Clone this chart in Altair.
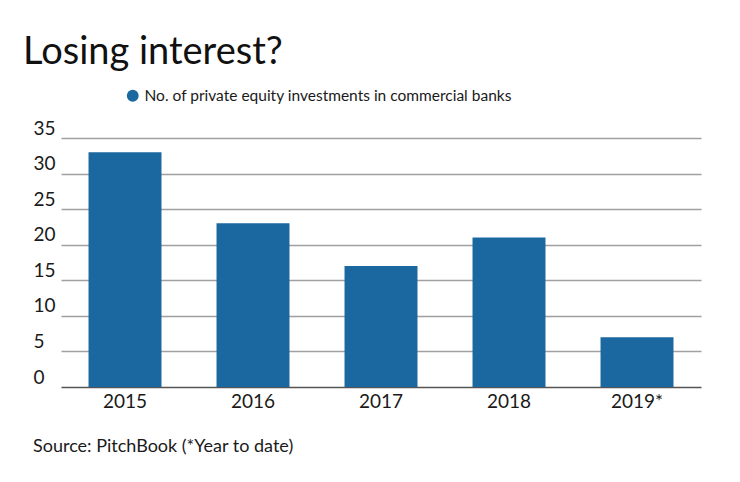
import altair as alt
import pandas as pd

years = ["2015", "2016", "2017", "2018", "2019*"]
values = [33, 23, 17, 21, 7]
series_name = "No. of private equity investments in commercial banks"
y_ticks = [0, 5, 10, 15, 20, 25, 30, 35]
title_text = "Losing interest?"
source_text = "Source: PitchBook (*Year to date)"

FONT = "Lato"
BLUE = "#1b68a0"

df = pd.DataFrame({"year": years, "value": values, "series": [series_name] * len(years)})

bars = alt.Chart(df).mark_bar(color=BLUE).encode(
    x=alt.X(
        "year:N",
        sort=years,
        scale=alt.Scale(range=[28, 668], paddingInner=0.43, paddingOuter=0.215),
        axis=alt.Axis(
            title=None, domain=False, ticks=False, labelAngle=0,
            labelFont=FONT, labelFontSize=19, labelColor="#1a1a1a", labelPadding=5,
        ),
    ),
    y=alt.Y(
        "value:Q",
        scale=alt.Scale(domain=[0, 35]),
        axis=alt.Axis(
            title=None, values=y_ticks, domain=False, ticks=False,
            labelAlign="left", labelBaseline="alphabetic", labelPadding=0, labelOffset=-4,
            labelFont=FONT, labelFontSize=19, labelColor="#1a1a1a",
            grid=True,
            gridColor={"condition": {"test": "datum.value === 0", "value": "#555555"}, "value": "#a0a0a0"},
            gridWidth=1.3,
        ),
    ),
    color=alt.Color(
        "series:N",
        scale=alt.Scale(range=[BLUE]),
        legend=alt.Legend(
            title=None, orient="none", legendX=92, legendY=-50,
            symbolType="circle", symbolSize=140, symbolStrokeWidth=0,
            labelFont=FONT, labelFontSize=15.5, labelColor="#1a1a1a", labelLimit=600,
            padding=0,
        ),
    ),
)

source = alt.Chart(pd.DataFrame({"t": [source_text]})).mark_text(
    align="left", baseline="alphabetic", font=FONT, fontSize=18, color="#1a1a1a"
).encode(x=alt.value(0), y=alt.value(314), text="t:N")

chart = alt.layer(bars, source).properties(
    width=675,
    height=249,
    padding={"left": 25, "top": 130, "right": 24, "bottom": 87},
    autosize=alt.AutoSizeParams(type="none"),
    title=alt.TitleParams(
        text=title_text, anchor="start", frame="group", font=FONT, fontSize=38,
        fontWeight="normal", color="#111111", baseline="alphabetic", dx=-10, dy=54, offset=40,
    ),
).configure_view(stroke=None)

chart.save("out.html", embed_options={"renderer": "svg", "actions": False})
